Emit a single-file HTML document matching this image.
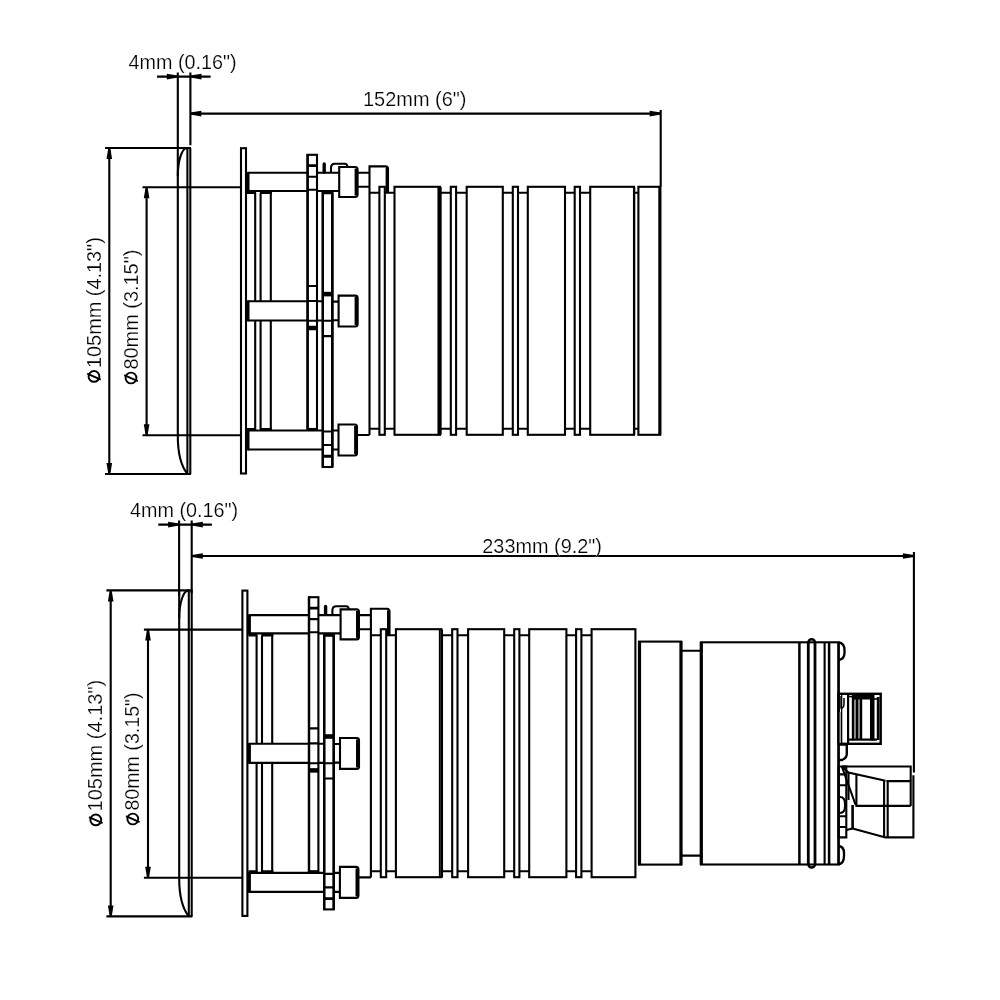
<!DOCTYPE html>
<html><head><meta charset="utf-8">
<style>
html,body{margin:0;padding:0;background:#fff;width:1000px;height:1000px;overflow:hidden}
svg{display:block;will-change:transform}
text{font-family:"Liberation Sans",sans-serif;font-size:19.5px;fill:#000;stroke:#fff;stroke-width:0.2px}
</style></head>
<body>
<svg width="1000" height="1000" viewBox="0 0 1000 1000">
<defs>
<g id="A" fill="none" stroke="#000" stroke-width="2.1">
<path d="M105,148H191M105,474H191M109.3,150V472"/>
<polygon points="108.30,148.00 110.30,148.00 112.10,159.00 106.50,159.00" fill="#000" stroke="none"/>
<polygon points="108.30,474.00 110.30,474.00 112.10,463.00 106.50,463.00" fill="#000" stroke="none"/>
<path d="M142.5,187.2H241M142.5,435.3H241M146.6,189V433.5"/>
<polygon points="145.60,187.20 147.60,187.20 149.40,198.20 143.80,198.20" fill="#000" stroke="none"/>
<polygon points="145.60,435.30 147.60,435.30 149.40,424.30 143.80,424.30" fill="#000" stroke="none"/>
<path d="M177.8,148 V436C177.8,455 181,466 187.5,474"/>
<path d="M177.8,176A9.3,28 0 0 1 187.2,148"/>
<path d="M190.3,148V474M187.4,148V474"/>
<rect x="241" y="148.2" width="5" height="325.3"/>
<path d="M247.5,172.7H307.5M247.5,191H307.5M247.5,301.3H307.5M247.5,320.5H307.5M247.5,430.5H323M247.5,449.5H323"/>
<path d="M248,172V192M248,300.5V321.3M248,429.7V450.3" stroke-width="3"/>
<path d="M255.2,192.8V301.3M260.6,192.8V301.3M270.8,192.8V301.3M255.2,320.5V429.5M260.6,320.5V429.5M270.8,320.5V429.5"/>
<path d="M247,192.8H256M260,192.8H272M247,429.2H256M260,429.2H272" stroke-width="2.6"/>
<rect x="307.6" y="154.8" width="9.4" height="274.2"/>
<path d="M307.6,154V430" stroke-width="2.4"/>
<path d="M307.6,176.7H317M307.6,189.8H317M307.6,286H317M307.6,301H317M307.6,320.8H317"/>
<path d="M307.6,165.7H317M307.6,429.5H317" stroke-width="2.8"/>
<path d="M307.6,328H317" stroke-width="4.5"/>
<path d="M317,172.7H339.2M317,191H339.2M317,301.3H322.8M317,320.5H322.8M332.4,301.6H339M332.4,320.2H339M332.4,430.5H338.5M332.4,449.5H338.5"/>
<rect x="322.8" y="192.5" width="9.6" height="274.5"/>
<path d="M322.8,192V467.5" stroke-width="2.4"/>
<path d="M322.8,320.8H332.4M322.8,336.1H332.4M322.8,445H332.4M322.8,431.5H332.4"/>
<path d="M322.8,192.8H332.4M322.8,456.2H332.4" stroke-width="2.9"/>
<path d="M322.8,294.1H332.4" stroke-width="4.6"/>
<path d="M332.3,192.5V467" stroke-width="2.5"/>
<path d="M324.2,172V164" stroke-width="3.4" stroke-linecap="round"/>
<path d="M331,172.7V168Q331,163.8 335,163.8H345Q347,163.8 347.5,167"/>
<path d="M339.2,167H355.3Q357.5,167 357.5,169.5V194.5Q357.5,197 355.3,197H339.2Z"/>
<path d="M356.4,168.5V195.5" stroke-width="3.6"/>
<path d="M338.6,295.6H355.3Q357.6,295.6 357.6,298V324Q357.6,326.5 355.3,326.5H338.6Z"/>
<path d="M356.4,297V325" stroke-width="3.6"/>
<path d="M338.5,424.5H354.8Q357,424.5 357,427V453Q357,455.5 354.8,455.5H338.5Z"/>
<path d="M355.9,426V454" stroke-width="3.6"/>
<path d="M357.8,172.7H369.5M357.8,186.8H369.5M357,435H369.5"/>
<path d="M369.5,435V166.4H385.5Q388,166.4 388,169V192.8"/>
<path d="M387.2,168V192.8" stroke-width="3.2"/>
<path d="M369.5,192.8H379.4M384.8,192.8H394.5M440,192.8H450.8M456.1,192.8H466.7M502.8,192.8H512.8M518,192.8H527.8M565,192.8H574.7M580,192.8H590.2"/>
<path d="M369.5,428.8H379.4M384.8,428.8H394.5M440,428.8H450.8M456.1,428.8H466.7M502.8,428.8H512.8M518,428.8H527.8M565,428.8H574.7M580,428.8H590.2"/>
<rect x="379.4" y="186.8" width="5.4" height="248"/>
<rect x="394.5" y="186.8" width="45.5" height="248"/>
<rect x="450.8" y="186.8" width="5.3" height="248"/>
<rect x="466.7" y="186.8" width="36.1" height="248"/>
<rect x="512.8" y="186.8" width="5.2" height="248"/>
<rect x="527.8" y="186.8" width="37.2" height="248"/>
<rect x="574.7" y="186.8" width="5.3" height="248"/>
<rect x="590.2" y="186.8" width="43.8" height="248"/>
<path d="M438.3,187V434.8M440.8,187V434.8" stroke-width="1.7"/>
</g>
</defs>
<use href="#A"/>
<g fill="none" stroke="#000" stroke-width="2.1">
<g transform="translate(0,0)">
<path d="M177.8,72.5V148M190.4,72.5V145.2M157,76.6H210.6"/>
<polygon points="177.80,75.60 177.80,77.60 166.80,79.40 166.80,73.80" fill="#000" stroke="none"/>
<polygon points="190.50,75.60 190.50,77.60 201.50,79.40 201.50,73.80" fill="#000" stroke="none"/>
</g>
<path d="M634,192.8H638.4M634,428.8H638.4"/>
<path d="M634.2,187V434.8" stroke-width="2.1"/>
<rect x="638.4" y="186.8" width="21.8" height="248"/>
<path d="M659.8,187V434.8" stroke-width="3"/>
<path d="M190.3,113.6H660.7M660.7,110V186.8"/>
<polygon points="190.30,112.60 190.30,114.60 201.30,116.40 201.30,110.80" fill="#000" stroke="none"/>
<polygon points="660.70,112.60 660.70,114.60 649.70,116.40 649.70,110.80" fill="#000" stroke="none"/>
</g>
<text x="128.6" y="68.6" textLength="108.1" lengthAdjust="spacingAndGlyphs">4mm (0.16")</text>
<text x="363" y="105.8" textLength="103.5" lengthAdjust="spacingAndGlyphs">152mm (6")</text>
<g transform="translate(100.6,382) rotate(-90)"><circle cx="5.60" cy="-6.6" r="5.4" fill="none" stroke="#000" stroke-width="1.9"/><path d="M2.40,0.2L8.40,-13.4" stroke="#000" stroke-width="1.9" fill="none"/><text x="14" y="0" textLength="130.8" lengthAdjust="spacingAndGlyphs">105mm (4.13")</text></g>
<g transform="translate(137.6,383.6) rotate(-90)"><circle cx="5.60" cy="-6.6" r="5.4" fill="none" stroke="#000" stroke-width="1.9"/><path d="M2.40,0.2L8.40,-13.4" stroke="#000" stroke-width="1.9" fill="none"/><text x="14" y="0" textLength="120" lengthAdjust="spacingAndGlyphs">80mm (3.15")</text></g>
<use href="#A" transform="translate(1.4,442.4)"/>
<g fill="none" stroke="#000" stroke-width="2.1">
<g transform="translate(1.3,448)">
<path d="M177.8,72.5V148M190.4,72.5V145.2M157,76.6H210.6"/>
<polygon points="177.80,75.60 177.80,77.60 166.80,79.40 166.80,73.80" fill="#000" stroke="none"/>
<polygon points="190.50,75.60 190.50,77.60 201.50,79.40 201.50,73.80" fill="#000" stroke="none"/>
</g>
<path d="M191.8,556H913.9M913.9,552V772.5"/>
<polygon points="191.80,555.00 191.80,557.00 202.80,558.80 202.80,553.20" fill="#000" stroke="none"/>
<polygon points="913.90,555.00 913.90,557.00 902.90,558.80 902.90,553.20" fill="#000" stroke="none"/>
<rect x="639.2" y="641.6" width="41.8" height="223"/>
<path d="M639.5,641V865.3M681,641V865.3" stroke-width="3.2"/>
<path d="M681,650.7H701M681,855.6H701"/>
<rect x="701" y="642.3" width="137.5" height="222.2"/>
<path d="M701.3,642V865" stroke-width="3.2"/>
<path d="M838.6,642V865" stroke-width="2.4"/>
<path d="M824.6,642.3V864.5"/>
<path d="M799.4,642.3V864.5M829.1,642.3V864.5" stroke-width="2.5"/>
<path d="M808.3,642.3V864.5M815,642.3V864.5" stroke-width="2.8"/>
<path d="M808.3,642.5A3.35,3.2 0 0 1 815,642.5M808.3,864.3A3.35,3.2 0 0 0 815,864.3" stroke-width="2.4"/>
<path d="M838.5,642.3Q844.5,643 844.5,650V653Q844.5,659 838.5,660" stroke-width="2.3"/>
<path d="M838.5,846Q844,846.5 844,853V856Q844,863.5 838.5,864.5" stroke-width="2.3"/>
<rect x="838.5" y="693.8" width="42.2" height="50" stroke-width="2.4"/>
<rect x="847" y="695" width="2.2" height="48" fill="#000" stroke="none"/>
<rect x="851.8" y="695" width="2.4" height="45.5" fill="#000" stroke="none"/>
<rect x="854.2" y="699" width="1.8" height="40" fill="#808080" stroke="none"/>
<rect x="856" y="699" width="2" height="40" fill="#000" stroke="none"/>
<rect x="858" y="699" width="2" height="40" fill="#808080" stroke="none"/>
<rect x="860" y="697" width="2.2" height="43" fill="#000" stroke="none"/>
<rect x="870" y="695" width="4.5" height="45.5" fill="#000" stroke="none"/>
<rect x="876.8" y="697" width="2.7" height="43" fill="#000" stroke="none"/>
<rect x="849" y="738.5" width="28" height="2.2" fill="#000" stroke="none"/>
<rect x="853" y="694.5" width="17" height="5" fill="#000" stroke="none"/>
<path d="M849,696.5Q853,696 855,699" stroke-width="1.6"/>
<path d="M872,699H879" stroke-width="1.6"/>
<rect x="841" y="695" width="1.3" height="48" fill="#000" stroke="none"/>
<rect x="839.5" y="712" width="1.3" height="31" fill="#909090" stroke="none"/>
<path d="M841,696V708Q844,708 844,704V698" stroke-width="1.5"/>
<path d="M838.5,744.5H846.8V754Q846.8,758 842,760H839" stroke-width="2.4"/>
<path d="M838.6,766.5V837.4H846.3V766.5ZM838.6,774.4H846.3M838.6,785.2H846.3M838.6,816.3H846.3M838.6,827H846.3"/>
<path d="M840,797Q845,797 845,804V806Q845,813 840,813"/>
<path d="M841.8,766.5H910.7V806M910.7,781.1H886.4M841.8,766.5L848.5,772.6L885.5,780.7M841.8,766.5L855.7,805"/>
<path d="M848.5,772.6V800M856.4,775V805.9H910.7M884.1,781V837M887.7,781V837M913.4,775.3V837.4H885.5L852.6,828.4M846.3,830L852.6,828.4"/>
<path d="M852.6,805V828.4" stroke-width="2.6"/>
</g>
<text x="130.1" y="517.2" textLength="108.1" lengthAdjust="spacingAndGlyphs">4mm (0.16")</text>
<text x="482.3" y="552.7" textLength="119.7" lengthAdjust="spacingAndGlyphs">233mm (9.2")</text>
<g transform="translate(102.4,825.5) rotate(-90)"><circle cx="5.60" cy="-6.6" r="5.4" fill="none" stroke="#000" stroke-width="1.9"/><path d="M2.40,0.2L8.40,-13.4" stroke="#000" stroke-width="1.9" fill="none"/><text x="14" y="0" textLength="131.7" lengthAdjust="spacingAndGlyphs">105mm (4.13")</text></g>
<g transform="translate(139.4,824.6) rotate(-90)"><circle cx="5.60" cy="-6.6" r="5.4" fill="none" stroke="#000" stroke-width="1.9"/><path d="M2.40,0.2L8.40,-13.4" stroke="#000" stroke-width="1.9" fill="none"/><text x="14" y="0" textLength="118.19999999999999" lengthAdjust="spacingAndGlyphs">80mm (3.15")</text></g>
</svg>
</body></html>
